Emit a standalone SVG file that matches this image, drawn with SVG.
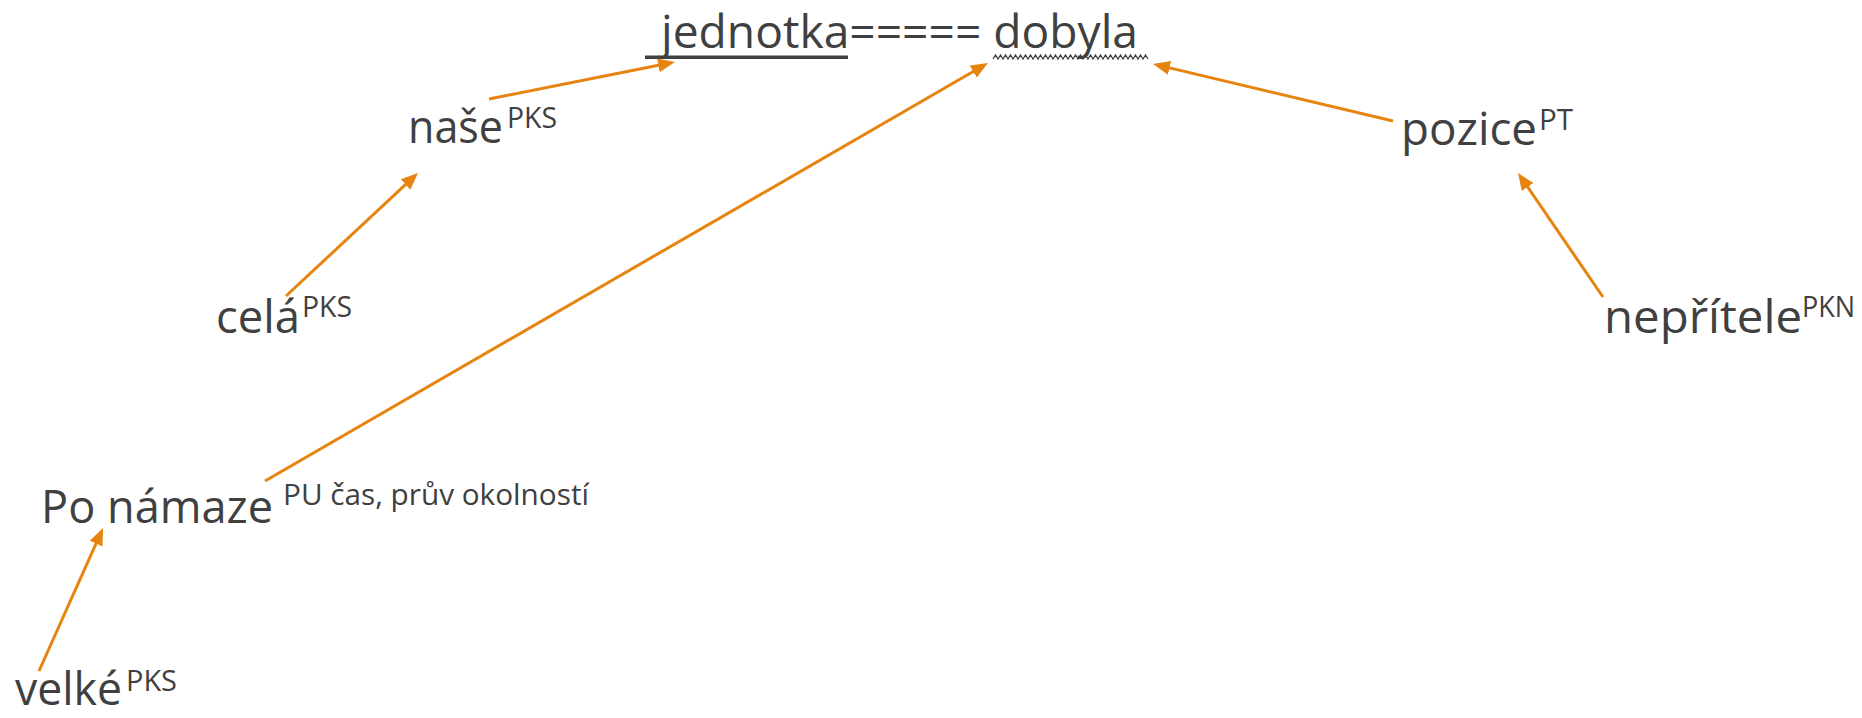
<svg xmlns="http://www.w3.org/2000/svg" width="1862" height="718" viewBox="0 0 1862 718">
<style>
.w{font-family:"Open Sans","Liberation Sans",sans-serif;font-size:46px;fill:#404040}
.s{font-family:"Open Sans","Liberation Sans",sans-serif;font-size:30px;fill:#404040}
.c{stroke:#E6840F;stroke-width:3;fill:none;marker-end:url(#ah)}
</style>
<defs>
<marker id="ah" markerUnits="userSpaceOnUse" markerWidth="17" markerHeight="14" refX="13" refY="7" orient="auto">
<path d="M0,0 L17,7 L0,14 z" fill="#E6840F"/>
</marker>
</defs>
<g id="root">
<text class="w" x="661" y="48" textLength="477" lengthAdjust="spacingAndGlyphs">jednotka===== dobyla</text>
<rect x="645" y="55.5" width="203" height="3.5" fill="#404040"/>
<path d="M993,59 l2.5,-4 2.5,4 2.5,-4 2.5,4 2.5,-4 2.5,4 2.5,-4 2.5,4 2.5,-4 2.5,4 2.5,-4 2.5,4 2.5,-4 2.5,4 2.5,-4 2.5,4 2.5,-4 2.5,4 2.5,-4 2.5,4 2.5,-4 2.5,4 2.5,-4 2.5,4 2.5,-4 2.5,4 2.5,-4 2.5,4 2.5,-4 2.5,4 2.5,-4 2.5,4 2.5,-4 2.5,4 2.5,-4 2.5,4 2.5,-4 2.5,4 2.5,-4 2.5,4 2.5,-4 2.5,4 2.5,-4 2.5,4 2.5,-4 2.5,4 2.5,-4 2.5,4 2.5,-4 2.5,4 2.5,-4 2.5,4 2.5,-4 2.5,4 2.5,-4 2.5,4 2.5,-4 2.5,4 2.5,-4 2.5,4 2.5,-4 2.5,4" fill="none" stroke="#404040" stroke-width="1.3"/>
</g>
<g id="nase">
<text class="w" x="408" y="143" textLength="95" lengthAdjust="spacingAndGlyphs">naše</text>
<text class="s" x="507" y="128" textLength="50" lengthAdjust="spacingAndGlyphs">PKS</text>
</g>
<g id="cela">
<text class="w" x="216" y="333" textLength="84" lengthAdjust="spacingAndGlyphs">celá</text>
<text class="s" x="302" y="317" textLength="50" lengthAdjust="spacingAndGlyphs">PKS</text>
</g>
<g id="ponamaze">
<text class="w" x="41" y="523" textLength="232" lengthAdjust="spacingAndGlyphs">Po námaze</text>
<text class="s" x="283" y="505" textLength="306" lengthAdjust="spacingAndGlyphs">PU čas, prův okolností</text>
</g>
<g id="velke">
<text class="w" x="15" y="705" textLength="107" lengthAdjust="spacingAndGlyphs">velké</text>
<text class="s" x="126" y="691" textLength="51" lengthAdjust="spacingAndGlyphs">PKS</text>
</g>
<g id="pozice">
<text class="w" x="1401" y="145" textLength="136" lengthAdjust="spacingAndGlyphs">pozice</text>
<text class="s" x="1539" y="130" textLength="34" lengthAdjust="spacingAndGlyphs">PT</text>
</g>
<g id="nepritele">
<text class="w" x="1604" y="333" textLength="198" lengthAdjust="spacingAndGlyphs">nepřítele</text>
<text class="s" x="1802" y="317" textLength="53" lengthAdjust="spacingAndGlyphs">PKN</text>
</g>
<g id="connectors">
<line class="c" x1="489" y1="99" x2="671.1" y2="62.8"/>
<line class="c" x1="265" y1="481" x2="984.5" y2="65"/>
<line class="c" x1="1393" y1="121" x2="1156.9" y2="64.9"/>
<line class="c" x1="1603" y1="297" x2="1520.3" y2="176.3"/>
<line class="c" x1="286" y1="296" x2="415.1" y2="175.7"/>
<line class="c" x1="39" y1="671" x2="101.4" y2="531.7"/>
</g>
</svg>
